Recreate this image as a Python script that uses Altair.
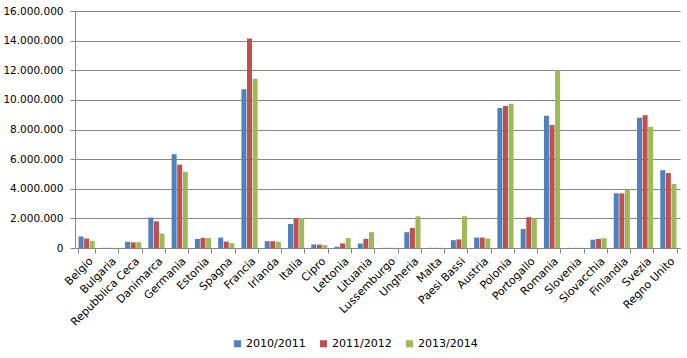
import altair as alt
import pandas as pd

paesi = ["Belgio", "Bulgaria", "Repubblica Ceca", "Danimarca", "Germania", "Estonia",
         "Spagna", "Francia", "Irlanda", "Italia", "Cipro", "Lettonia", "Lituania",
         "Lussemburgo", "Ungheria", "Malta", "Paesi Bassi", "Austria", "Polonia",
         "Portogallo", "Romania", "Slovenia", "Slovacchia", "Finlandia", "Svezia",
         "Regno Unito"]

anni = ["2010/2011", "2011/2012", "2013/2014"]

v_2010_2011 = [780000, 10000, 420000, 2060000, 6330000, 610000, 700000, 10720000,
               460000, 1620000, 240000, 90000, 300000, 10000, 1070000, 10000,
               530000, 700000, 9450000, 1280000, 8930000, 10000, 560000, 3690000,
               8790000, 5250000]
v_2011_2012 = [640000, 10000, 380000, 1800000, 5630000, 680000, 430000, 14150000,
               460000, 2000000, 230000, 310000, 620000, 10000, 1350000, 10000,
               580000, 700000, 9590000, 2080000, 8300000, 10000, 610000, 3690000,
               8970000, 5060000]
v_2013_2014 = [480000, 10000, 390000, 980000, 5150000, 680000, 330000, 11420000,
               420000, 2030000, 190000, 670000, 1070000, 10000, 2140000, 10000,
               2140000, 640000, 9740000, 2000000, 12000000, 10000, 660000, 3940000,
               8180000, 4320000]

colori = ["#4F81BD", "#C0504D", "#9BBB59"]

rows = []
for serie, valori in zip(anni, [v_2010_2011, v_2011_2012, v_2013_2014]):
    for p, v in zip(paesi, valori):
        rows.append({"Paese": p, "Anno": serie, "Valore": v})
df = pd.DataFrame(rows)

font = "DejaVu Sans"

chart = alt.Chart(df).mark_bar(size=5).encode(
    x=alt.X("Paese:N", sort=paesi, title=None,
            scale=alt.Scale(paddingInner=0.28, paddingOuter=0.14),
            axis=alt.Axis(labelAngle=-45, labelFontSize=11, labelFont=font,
                          labelColor="#000000", domainColor="#868686",
                          tickColor="#868686", tickBand="extent", tickSize=5,
                          labelPadding=2, grid=False)),
    xOffset=alt.XOffset("Anno:N", sort=anni, scale=alt.Scale(paddingInner=0, paddingOuter=0)),
    y=alt.Y("Valore:Q", title=None,
            scale=alt.Scale(domain=[0, 16000000], nice=False),
            axis=alt.Axis(values=list(range(0, 16000001, 2000000)),
                          labelExpr="replace(format(datum.value, ',d'), /,/g, '.')",
                          labelFontSize=10.5, labelFont=font, labelColor="#000000",
                          domainColor="#868686", tickColor="#868686", tickSize=5,
                          gridColor="#868686", gridWidth=1, labelPadding=7)),
    color=alt.Color("Anno:N", sort=anni,
                    scale=alt.Scale(domain=anni, range=colori),
                    legend=alt.Legend(title=None, orient="none", direction="horizontal",
                                      legendX=157, legendY=327,
                                      symbolType="square", symbolSize=50,
                                      symbolStrokeWidth=0, labelFontSize=11,
                                      labelFont=font, labelColor="#000000",
                                      columnPadding=12, labelOffset=3)),
).properties(
    width=605, height=237,
    padding={"left": 75, "top": 11, "right": 7, "bottom": 110},
    autosize=alt.AutoSizeParams(type="none"),
).configure_view(stroke=None)

chart.save("out.html", embed_options={"renderer": "svg", "actions": False})
